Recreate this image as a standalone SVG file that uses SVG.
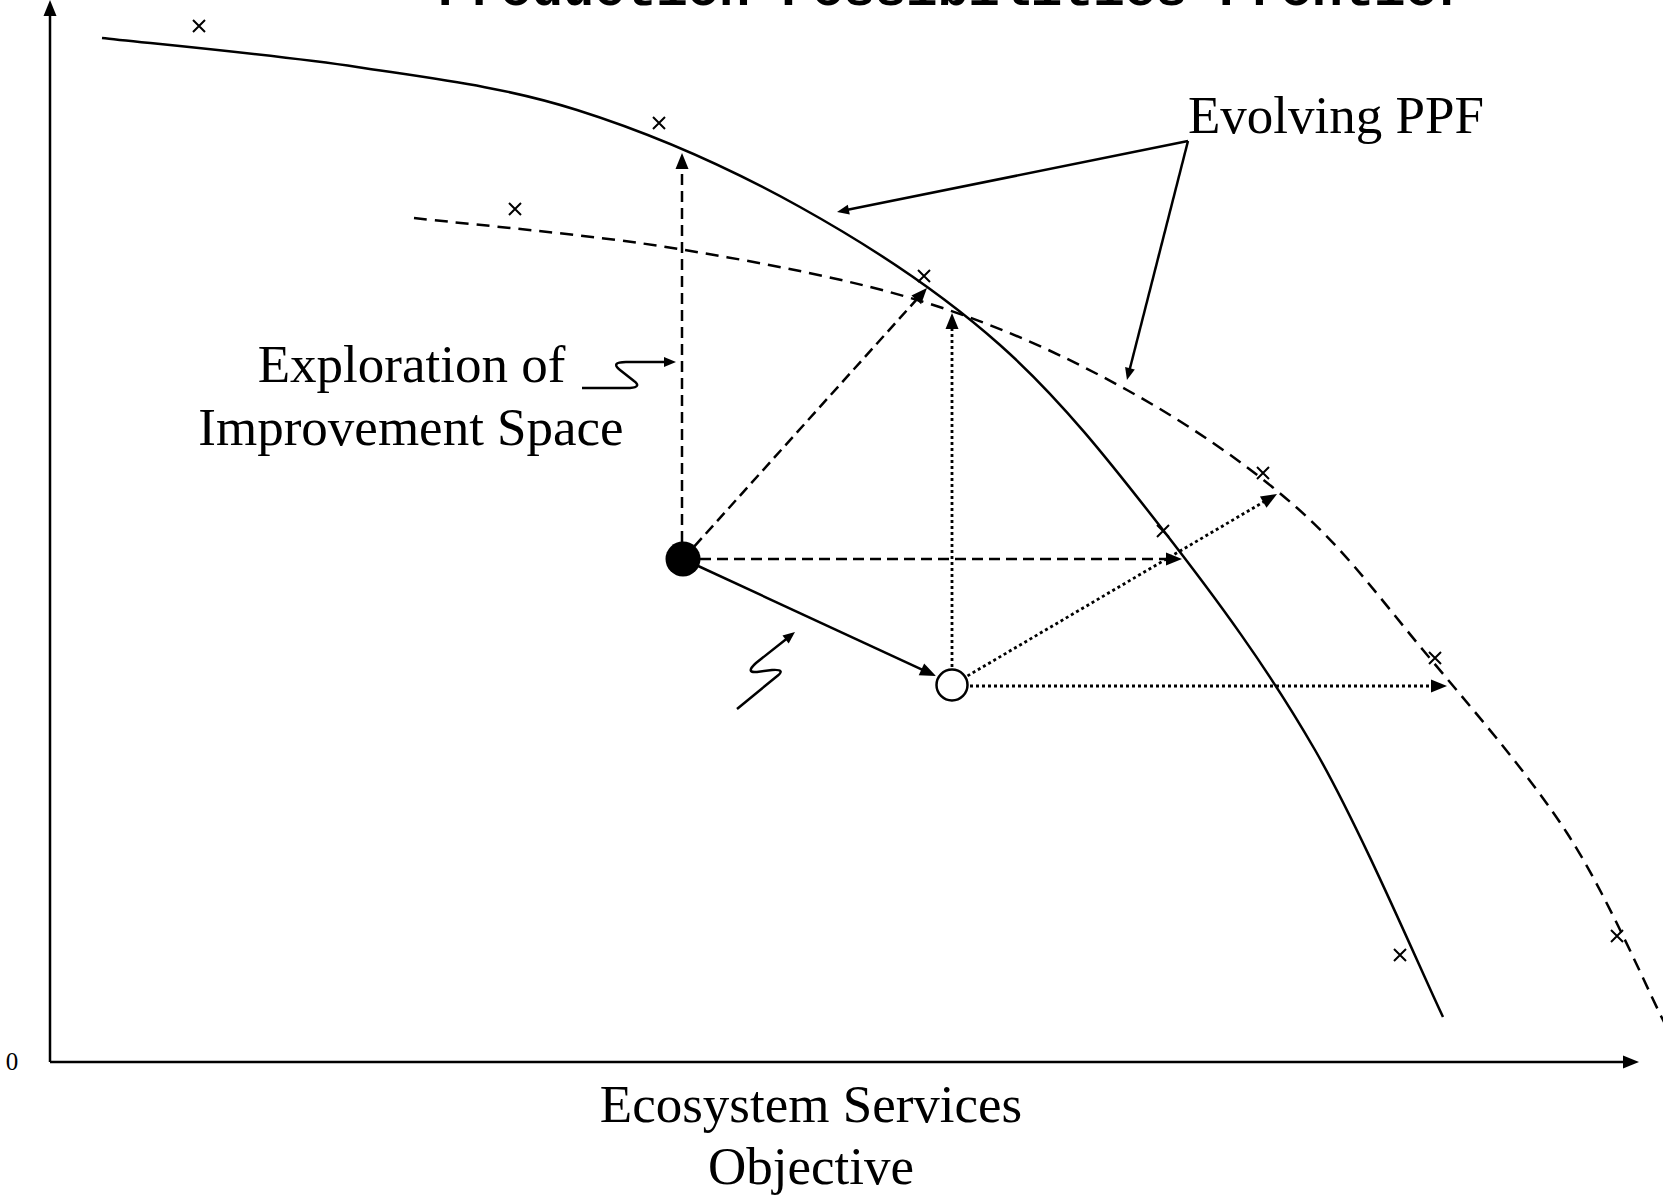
<svg xmlns="http://www.w3.org/2000/svg" width="1663" height="1196" viewBox="0 0 1663 1196">
<defs>
<marker id="ah" markerUnits="userSpaceOnUse" markerWidth="16" markerHeight="13" refX="6" refY="6.5" orient="auto" overflow="visible"><path d="M0,0 L16,6.5 L0,13 Z" fill="#000"/></marker>
<marker id="ahs" markerUnits="userSpaceOnUse" markerWidth="12" markerHeight="10" refX="5" refY="5" orient="auto" overflow="visible"><path d="M0,0 L12,5 L0,10 Z" fill="#000"/></marker>
<path id="xm" d="M-6,-6 L6,6 M-6,6 L6,-6" stroke="#000" stroke-width="2" fill="none"/>
</defs>
<style>
.t{font-family:"Liberation Serif","Times New Roman",serif;font-size:53px;fill:#000}
.title{font-family:"Liberation Mono","Courier New",monospace;font-weight:bold;font-size:52px;fill:#000}
.ln{fill:none;stroke:#000;stroke-width:2.5}
.dash{stroke-dasharray:11 6}
.dot{stroke-dasharray:3 3;stroke-width:2.8}
.cdash{stroke-dasharray:13 8}
</style>
<rect width="1663" height="1196" fill="#fff"/>
<text class="title" x="953" y="5" text-anchor="middle">Production Possibilities Frontier</text>
<g id="axes">
<path class="ln" d="M50,1062 L50,10" marker-end="url(#ah)"/>
<path class="ln" d="M50,1062 L1629,1062" marker-end="url(#ah)"/>
<text class="t" x="12" y="1070" text-anchor="middle" style="font-size:25px">0</text>
</g>
<g id="ppf-current">
<path class="ln" d="M102,38 C144.5,42.8 277.8,55 357,67 C436.2,79 503.2,86.7 577,110 C650.8,133.3 729.5,167.8 800,207 C870.5,246.2 939.5,291.2 1000,345 C1060.5,398.8 1110.5,462.5 1163,530 C1215.5,597.5 1268.3,668.8 1315,750 C1361.7,831.2 1421.7,972.5 1443,1017"/>
</g>
<g id="ppf-evolved">
<path class="ln cdash" d="M414,218 C458.2,223.2 593.5,234.8 679,249 C764.5,263.2 852.3,279.5 927,303 C1001.7,326.5 1065.5,356 1127,390 C1188.5,424 1246.7,463.7 1296,507 C1345.3,550.3 1377.8,595.7 1423,650 C1468.2,704.3 1527,771.3 1567,833 C1607,894.7 1647,988.8 1663,1020 L1682,1058"/>
</g>
<g id="samples">
<use href="#xm" x="199" y="26"/>
<use href="#xm" x="659" y="123"/>
<use href="#xm" x="515" y="209"/>
<use href="#xm" x="924" y="276"/>
<use href="#xm" x="1263" y="473"/>
<use href="#xm" x="1163" y="531"/>
<use href="#xm" x="1435" y="658"/>
<use href="#xm" x="1400" y="955"/>
<use href="#xm" x="1617" y="936"/>
</g>
<g id="connectors">
<path class="ln dash" d="M682,559 L682,163" marker-end="url(#ah)"/>
<path class="ln dash" d="M683,559 L920.3,295.4" marker-end="url(#ah)"/>
<path class="ln dash" d="M683,559 L1172,559" marker-end="url(#ah)"/>
<path class="ln" d="M683,559 L926.9,671.8" marker-end="url(#ah)"/>
<path class="ln dot" d="M952,685 L952,323" marker-end="url(#ah)"/>
<path class="ln dot" d="M952,685 L1268.4,499.1" marker-end="url(#ah)"/>
<path class="ln dot" d="M952,686 L1437,686" marker-end="url(#ah)"/>
<path class="ln" d="M1188,141 L843.9,210.6" marker-end="url(#ahs)"/>
<path class="ln" d="M1188,141 L1128.7,373.2" marker-end="url(#ahs)"/>
<path class="ln" d="M582,388 L630,388 Q642,387 634,381 L620,370 Q610,362 626,362 L669,362" marker-end="url(#ahs)"/>
<path class="ln" d="M737,709 L776,677 Q787,669 772,670 L757,672 Q745,673 756,663 L789.5,636.4" marker-end="url(#ahs)"/>
</g>
<g id="start-point"><circle cx="683" cy="559" r="17.5" fill="#000"/></g>
<g id="new-point"><circle cx="952" cy="685" r="15.5" fill="#fff" stroke="#000" stroke-width="2.5"/></g>
<g id="label-evolving"><text class="t" x="1188" y="133">Evolving PPF</text></g>
<g id="label-exploration">
<text class="t" x="411.5" y="382" text-anchor="middle">Exploration of</text>
<text class="t" x="411" y="445" text-anchor="middle">Improvement Space</text>
</g>
<g id="label-xaxis">
<text class="t" x="811" y="1122" text-anchor="middle">Ecosystem Services</text>
<text class="t" x="811" y="1184" text-anchor="middle">Objective</text>
</g>
</svg>
